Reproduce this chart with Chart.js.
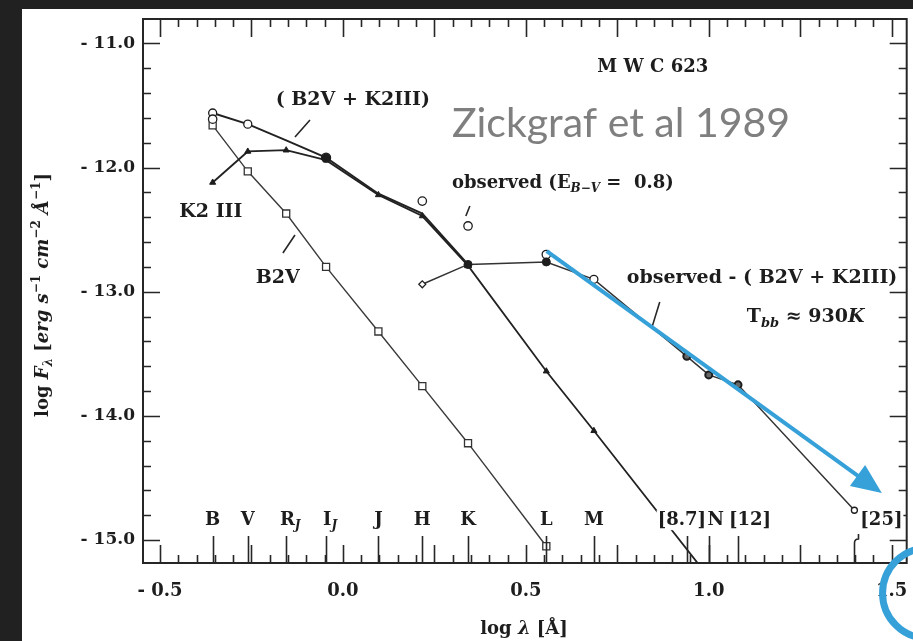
<!DOCTYPE html>
<html>
<head>
<meta charset="utf-8">
<script src="https://cdn.jsdelivr.net/npm/chart.js@4.4.0/dist/chart.umd.min.js"></script>
<style>
  html, body { margin: 0; padding: 0; background: #212121; }
  canvas { display: block; }
</style>
</head>
<body>
<canvas id="chart" width="913" height="641"></canvas>
<script>
// photometric bands and their log wavelength
var bandNames = ['B', 'V', 'R_J', 'I_J', 'J', 'H', 'K', 'L', 'M', '[8.7]', 'N', '[12]', '[25]'];
var bandLogLambda = [-0.356, -0.26, -0.155, -0.046, 0.097, 0.217, 0.342, 0.556, 0.686, 0.94, 1.0, 1.08, 1.398];

// log F per band, same order as bandNames (null = no point)
var b2vFlux      = [-11.66, -12.03, -12.37, -12.80, -13.32, -13.76, -14.22, -15.05];
var k2iiiFlux    = [-12.12, -11.87, -11.86, -11.94, -12.22, -12.39, -12.79, -13.64, -14.12, null, -15.30];
var sumFlux      = [-11.56, -11.65, -11.78, -11.92, -12.21, -12.37, -12.78];
var observedFlux = [-11.61, null, null, null, null, -12.27, -12.47, -12.70];
var excessFlux   = [null, null, null, null, null, -12.94, -12.78, -12.76, -12.90, -13.52, -13.67, -13.75, -14.76];

// axis labels
var xTickValues = [-0.5, 0.0, 0.5, 1.0, 1.5];
var yTickValues = [-15, -14, -13, -12, -11];

var INK = '#1d1d1d';
var SERIF = '"DejaVu Serif"';

function toPoints(flux) {
  var pts = [];
  for (var i = 0; i < flux.length; i++) {
    if (flux[i] != null) pts.push({x: bandLogLambda[i], y: flux[i]});
  }
  return pts;
}

function fmt(v) {
  var s = Math.abs(v).toFixed(1);
  return v < 0 ? '- ' + s : s;
}

// text made of pieces: style letters b = bold, i = italic, _ = subscript, ^ = superscript
function pieceFont(style, size) {
  var small = style.indexOf('_') >= 0 || style.indexOf('^') >= 0;
  return (style.indexOf('i') >= 0 ? 'italic ' : '') + (style.indexOf('b') >= 0 ? 'bold ' : '') +
    Math.round(small ? size * 0.68 : size) + 'px ' + SERIF;
}
function richWidth(ctx, parts, size) {
  var w = 0;
  parts.forEach(function (p) { ctx.font = pieceFont(p[1], size); w += ctx.measureText(p[0]).width; });
  return w;
}
function drawRich(ctx, parts, x, y, size, align) {
  var w = richWidth(ctx, parts, size);
  var cx = align === 'center' ? x - w / 2 : x;
  ctx.textBaseline = 'middle';
  ctx.textAlign = 'left';
  parts.forEach(function (p) {
    ctx.font = pieceFont(p[1], size);
    var dy = p[1].indexOf('_') >= 0 ? size * 0.32 : (p[1].indexOf('^') >= 0 ? -size * 0.36 : 0);
    ctx.fillText(p[0], cx, y + dy);
    cx += ctx.measureText(p[0]).width;
  });
  return w;
}

// labels inside the plot, anchored in data coordinates
var notes = [
  {at: [0.847, -11.19], align: 'center', parts: [['M W C 623', 'b']], size: 18},
  {at: [0.027, -11.455], align: 'center', parts: [['( B2V + K2III)', 'b']], size: 19},
  {at: [-0.361, -12.358], align: 'center', parts: [['K2 III', 'b']], size: 19},
  {at: [-0.178, -12.89], align: 'center', parts: [['B2V', 'b']], size: 19},
  {at: [0.298, -12.124], align: 'left', parts: [['observed (E', 'b'], ['B−V', 'bi_'], [' =  0.8)', 'b']], size: 18},
  {at: [0.776, -12.89], align: 'left', parts: [['observed - ( B2V + K2III)', 'b']], size: 19},
  {at: [1.104, -13.204], align: 'left', parts: [['T', 'b'], ['bb', 'bi_'], [' ≈ 930', 'b'], ['K', 'bi']], size: 19}
];
var pointers = [
  [[-0.131, -11.753], [-0.090, -11.616]],
  [[-0.164, -12.688], [-0.131, -12.543]],
  [[0.336, -12.390], [0.347, -12.309]],
  [[0.844, -13.293], [0.866, -13.083]]
];
var bandLabelY = -14.84;
// sideways nudge (px) for band names that sit beside their marker
var bandLabelShift = {'[8.7]': -5, 'N': 7, '[12]': 12, '[25]': 27, 'R_J': 4, 'I_J': 4};
var arrowFrom = [0.557, -12.672], arrowTo = [1.473, -14.622];
var ringCenter = [1.598, -15.428];

var paper = {
  id: 'paper',
  beforeDraw: function (chart) {
    var ctx = chart.ctx;
    ctx.save();
    ctx.fillStyle = '#212121';
    ctx.fillRect(0, 0, chart.width, chart.height);
    ctx.fillStyle = '#ffffff';
    ctx.fillRect(22, 9, chart.width - 22, chart.height - 9);
    ctx.restore();
  },
  afterDatasetsDraw: function (chart) {
    var ctx = chart.ctx, a = chart.chartArea;
    var xs = chart.scales.x, ys = chart.scales.y;
    function X(v) { return xs.getPixelForValue(v); }
    function Y(v) { return ys.getPixelForValue(v); }
    ctx.save();
    ctx.strokeStyle = '#262626';
    ctx.fillStyle = INK;

    // frame
    ctx.lineWidth = 2;
    ctx.strokeRect(a.left, a.top, a.right - a.left, a.bottom - a.top);

    // inward ticks
    ctx.lineWidth = 1.6;
    ctx.beginPath();
    for (var k = -100; k <= 300; k++) {
      var v = k * 0.05;
      if (v < -0.5 - 1e-9 || v > 1.5 + 1e-9) continue;
      var major = k % 5 === 0;
      var px = Math.round(X(v)) + 0.5;
      ctx.moveTo(px, a.top); ctx.lineTo(px, a.top + (major ? 18 : 8));
      ctx.moveTo(px, a.bottom); ctx.lineTo(px, a.bottom - (major ? 18 : 8));
    }
    for (var j = -75; j <= -55; j++) {
      var w = j * 0.2;
      var major2 = j % 5 === 0;
      var py = Math.round(Y(w)) + 0.5;
      if (py < a.top + 2 || py > a.bottom - 2) continue;
      ctx.moveTo(a.left, py); ctx.lineTo(a.left + (major2 ? 17 : 8), py);
      ctx.moveTo(a.right, py); ctx.lineTo(a.right - (major2 ? 17 : 8), py);
    }
    ctx.stroke();

    // band markers along the bottom axis
    ctx.beginPath();
    for (var b = 0; b < bandNames.length; b++) {
      var bx = Math.round(X(bandLogLambda[b])) + 0.5;
      if (bandNames[b] === '[25]') {
        ctx.moveTo(bx, a.bottom); ctx.lineTo(bx, a.bottom - 20);
        ctx.quadraticCurveTo(bx, a.bottom - 24, bx + 4, a.bottom - 24);
        ctx.lineTo(bx + 4, a.bottom - 29);
      } else {
        ctx.moveTo(bx, a.bottom); ctx.lineTo(bx, a.bottom - 27);
      }
    }
    ctx.stroke();

    // band names
    var ly = Y(bandLabelY);
    for (var n = 0; n < bandNames.length; n++) {
      var parts = bandNames[n].split('_');
      var pieces = [[parts[0], 'b']];
      if (parts[1]) pieces.push([parts[1], 'bi_']);
      var cx = X(bandLogLambda[n]) + (bandLabelShift[bandNames[n]] || 0);
      var wdt = richWidth(ctx, pieces, 18);
      ctx.fillStyle = '#ffffff';
      ctx.fillRect(cx - wdt / 2 - 1, ly - 10, wdt + 2, 20);
      ctx.fillStyle = INK;
      drawRich(ctx, pieces, cx, ly, 18, 'center');
    }

    // annotations
    notes.forEach(function (nt) {
      drawRich(ctx, nt.parts, X(nt.at[0]), Y(nt.at[1]), nt.size, nt.align);
    });
    ctx.lineWidth = 1.6;
    ctx.beginPath();
    pointers.forEach(function (p) {
      ctx.moveTo(X(p[0][0]), Y(p[0][1]));
      ctx.lineTo(X(p[1][0]), Y(p[1][1]));
    });
    ctx.stroke();

    // axis titles
    drawRich(ctx, [['log ', 'b'], ['λ', 'bi'], [' [Å]', 'b']], 524, 629, 18, 'center');
    ctx.save();
    ctx.translate(43, 295);
    ctx.rotate(-Math.PI / 2);
    drawRich(ctx, [['log ', 'b'], ['F', 'bi'], ['λ', 'bi_'], [' [', 'b'], ['erg s', 'bi'], ['−1', 'b^'],
      [' cm', 'bi'], ['−2', 'b^'], [' Å', 'bi'], ['−1', 'b^'], [']', 'b']], 0, 0, 17.5, 'center');
    ctx.restore();
    ctx.restore();
  },
  afterDraw: function (chart) {
    var ctx = chart.ctx;
    var xs = chart.scales.x, ys = chart.scales.y;
    ctx.save();
    // overlay caption
    ctx.fillStyle = '#7f7f7f';
    ctx.font = '41px Lato';
    ctx.textBaseline = 'alphabetic';
    ctx.textAlign = 'left';
    ctx.fillText('Zickgraf et al 1989', xs.getPixelForValue(0.298), ys.getPixelForValue(-11.753));

    // blue arrow
    var x0 = xs.getPixelForValue(arrowFrom[0]), y0 = ys.getPixelForValue(arrowFrom[1]);
    var x1 = xs.getPixelForValue(arrowTo[0]), y1 = ys.getPixelForValue(arrowTo[1]);
    var ang = Math.atan2(y1 - y0, x1 - x0);
    var head = 30, half = 13;
    var bx = x1 - head * Math.cos(ang), by = y1 - head * Math.sin(ang);
    ctx.strokeStyle = '#36a0d8';
    ctx.fillStyle = '#36a0d8';
    ctx.lineWidth = 4;
    ctx.beginPath();
    ctx.moveTo(x0, y0);
    ctx.lineTo(bx + 4 * Math.cos(ang), by + 4 * Math.sin(ang));
    ctx.stroke();
    ctx.beginPath();
    ctx.moveTo(x1, y1);
    ctx.lineTo(bx - half * Math.sin(ang), by + half * Math.cos(ang));
    ctx.lineTo(bx + half * Math.sin(ang), by - half * Math.cos(ang));
    ctx.closePath();
    ctx.fill();

    // ring at the corner
    ctx.lineWidth = 7;
    ctx.beginPath();
    ctx.arc(xs.getPixelForValue(ringCenter[0]), ys.getPixelForValue(ringCenter[1]), 45, 0, Math.PI * 2);
    ctx.stroke();
    ctx.restore();
  }
};

var ctx = document.getElementById('chart').getContext('2d');
var chart = new Chart(ctx, {
  type: 'scatter',
  data: {
    datasets: [
      {
        label: 'observed - (B2V + K2III)',
        data: toPoints(excessFlux),
        showLine: true,
        borderColor: '#333',
        borderWidth: 1.5,
        pointStyle: ['rectRot', 'circle', 'circle', 'circle', 'circle', 'circle', 'circle', 'circle'],
        pointRadius: [3.5, 4, 4, 4, 3.5, 3.5, 3.5, 3],
        pointBorderWidth: [1.2, 1, 1, 1.3, 2, 2, 2, 1.3],
        pointBorderColor: INK,
        pointBackgroundColor: ['#fff', INK, INK, '#fff', '#666', '#666', '#666', '#fff']
      },
      {
        label: 'observed (E B-V = 0.8)',
        data: toPoints(observedFlux),
        showLine: false,
        pointStyle: 'circle',
        pointRadius: 4.2,
        pointBorderWidth: 1.3,
        pointBorderColor: INK,
        pointBackgroundColor: '#fff'
      },
      {
        label: '(B2V + K2III)',
        data: toPoints(sumFlux),
        showLine: true,
        borderColor: '#222',
        borderWidth: 1.9,
        pointStyle: 'circle',
        pointRadius: [4, 4, 0, 4.5, 0, 0, 0],
        pointBorderWidth: 1.3,
        pointBorderColor: INK,
        pointBackgroundColor: ['#fff', '#fff', '#fff', INK, '#fff', '#fff', '#fff']
      },
      {
        label: 'K2 III',
        data: toPoints(k2iiiFlux),
        showLine: true,
        borderColor: '#222',
        borderWidth: 1.8,
        pointStyle: 'triangle',
        pointRadius: [3.5, 3.5, 3.5, 3.5, 3.5, 3.5, 4, 3.5, 3.5, 0],
        pointBorderWidth: 1,
        pointBorderColor: INK,
        pointBackgroundColor: INK
      },
      {
        label: 'B2V',
        data: toPoints(b2vFlux),
        showLine: true,
        borderColor: '#3a3a3a',
        borderWidth: 1.4,
        pointStyle: 'rect',
        pointRadius: 5,
        pointBorderWidth: 1.3,
        pointBorderColor: '#333',
        pointBackgroundColor: '#fff'
      }
    ]
  },
  options: {
    responsive: false,
    animation: false,
    events: [],
    layout: { padding: { left: 22, top: 19, right: 6, bottom: 0 } },
    plugins: { legend: { display: false }, tooltip: { enabled: false } },
    scales: {
      x: {
        type: 'linear',
        min: -0.5464,
        max: 1.541,
        grid: { display: false, drawTicks: false },
        border: { display: false },
        afterBuildTicks: function (s) { s.ticks = xTickValues.map(function (v) { return {value: v}; }); },
        afterFit: function (s) { s.height = 78; s.paddingLeft = 0; s.paddingRight = 0; },
        ticks: {
          padding: 18,
          autoSkip: false,
          maxRotation: 0,
          color: INK,
          font: { family: SERIF, size: 18, weight: 'bold' },
          callback: function (v) { return fmt(v); }
        }
      },
      y: {
        type: 'linear',
        min: -15.185,
        max: -10.803,
        grid: { display: false, drawTicks: false },
        border: { display: false },
        afterBuildTicks: function (s) { s.ticks = yTickValues.map(function (v) { return {value: v}; }); },
        afterFit: function (s) { s.width = 121; s.paddingTop = 0; s.paddingBottom = 0; },
        ticks: {
          padding: 8,
          color: INK,
          font: { family: SERIF, size: 17, weight: 'bold' },
          callback: function (v) { return fmt(v); }
        }
      }
    }
  },
  plugins: [paper]
});
</script>
</body>
</html>
